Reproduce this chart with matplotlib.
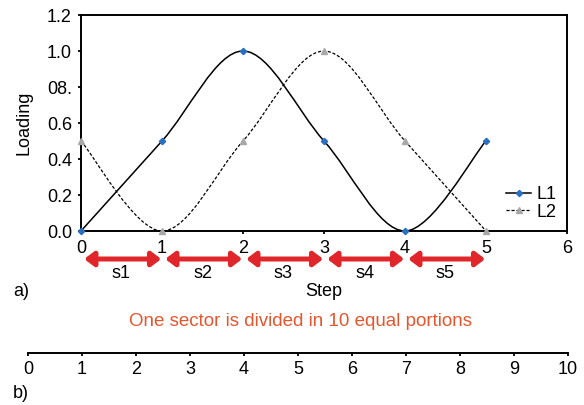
import matplotlib

matplotlib.use("Agg")
import matplotlib.pyplot as plt
from matplotlib.lines import Line2D
from matplotlib.patches import PathPatch
from matplotlib.path import Path
from matplotlib.transforms import blended_transform_factory

plt.rcParams["font.family"] = ["Liberation Sans", "DejaVu Sans"]

# data
steps = [0, 1, 2, 3, 4, 5]
l1 = [0.0, 0.5, 1.0, 0.5, 0.0, 0.5]
l2 = [0.5, 0.0, 0.5, 1.0, 0.5, 0.0]
y_ticks = [0.0, 0.2, 0.4, 0.6, 0.8, 1.0, 1.2]
y_tick_labels = ["0.0", "0.2", "0.4", "0.6", "08.", "1.0", "1.2"]
x_ticks = [0, 1, 2, 3, 4, 5, 6]
sectors = ["s1", "s2", "s3", "s4", "s5"]
portion_ticks = list(range(11))

BLUE = "#2a6fc0"
GREY = "#a8a8a8"
RED = "#e1262b"
ORANGE = "#e4572e"
FS = 13


def smooth_path(xs, ys):
    """Excel-style smoothed line: cubic Bezier segments through every point."""
    pts = list(zip(xs, ys))
    n = len(pts)
    verts = [pts[0]]
    codes = [Path.MOVETO]
    for i in range(n - 1):
        p0 = pts[max(i - 1, 0)]
        p1 = pts[i]
        p2 = pts[i + 1]
        p3 = pts[min(i + 2, n - 1)]
        c1 = (p1[0] + (p2[0] - p0[0]) / 6, p1[1] + (p2[1] - p0[1]) / 6)
        c2 = (p2[0] - (p3[0] - p1[0]) / 6, p2[1] - (p3[1] - p1[1]) / 6)
        verts += [c1, c2, p2]
        codes += [Path.CURVE4] * 3
    return Path(verts, codes)


fig = plt.figure(figsize=(5.84, 4.05), dpi=100)
ax = fig.add_axes([81 / 584, 1 - 231 / 405, 486 / 584, 216 / 405])

ax.add_patch(PathPatch(smooth_path(steps, l1), fill=False, color="black", lw=1.1, zorder=2))
ax.add_patch(PathPatch(smooth_path(steps, l2), fill=False, color="black", lw=0.9,
                       linestyle=(0, (2.5, 1.5)), zorder=2))
ax.plot(steps, l1, ls="none", marker="D", ms=3.2, color=BLUE, zorder=3, clip_on=False)
ax.plot(steps, l2, ls="none", marker="^", ms=3.8, color=GREY, zorder=3, clip_on=False)

ax.set_xlim(0, 6)
ax.set_ylim(0, 1.2)
ax.set_xticks(x_ticks)
ax.set_yticks(y_ticks)
ax.set_yticklabels(y_tick_labels)
ax.tick_params(direction="out", length=2.5, width=1.3, labelsize=FS, pad=4)
for s in ax.spines.values():
    s.set_linewidth(1.4)

ax.set_ylabel("Loading", fontsize=FS)
ax.yaxis.set_label_coords((32 - 81) / 486, 0.5)
ax.set_xlabel("Step", fontsize=FS)
ax.xaxis.set_label_coords(0.5, (231 - 292) / 216)
ax.xaxis.label.set_va("center")

handles = [
    Line2D([], [], color="black", lw=1.1, marker="D", ms=3.2, mfc=BLUE, mec=BLUE),
    Line2D([], [], color="black", lw=0.9, ls=(0, (2.5, 1.5)), marker="^", ms=3.8,
           mfc=GREY, mec=GREY),
]
ax.legend(handles, ["L1", "L2"], loc="lower right", frameon=False, fontsize=FS,
          handlelength=1.4, handletextpad=0.3, labelspacing=0.05,
          bbox_to_anchor=(1.0 - 3 / 486, 3 / 216), borderaxespad=0, borderpad=0.4)

# sector arrows below the step axis
trans = blended_transform_factory(ax.transData, ax.transAxes)
arrow_y = (231 - 259) / 216
label_y = (231 - 273) / 216
for i, name in enumerate(sectors):
    ax.annotate("", xy=(i + 0.99, arrow_y), xytext=(i + 0.04, arrow_y),
                xycoords=trans, textcoords=trans, annotation_clip=False,
                arrowprops=dict(arrowstyle="<|-|>,head_length=0.55,head_width=0.42",
                                color=RED, lw=3.6, shrinkA=0, shrinkB=0,
                                mutation_scale=10))
    ax.text(i + 0.5, label_y, name, transform=trans, ha="center", va="center",
            fontsize=FS)

fig.text(13 / 584, 1 - 292 / 405, "a)", ha="left", va="center", fontsize=FS)
fig.text(300 / 584, 1 - 322 / 405, "One sector is divided in 10 equal portions",
         ha="center", va="center", fontsize=13.5, color=ORANGE)

# b) portion scale
bx = fig.add_axes([28 / 584, 1 - 353 / 405, 540 / 584, 0.001])
bx.set_xlim(0, 10)
bx.set_yticks([])
bx.set_xticks(portion_ticks)
for side in ("top", "left", "right"):
    bx.spines[side].set_visible(False)
bx.spines["bottom"].set_linewidth(1.4)
bx.tick_params(direction="out", length=2.5, width=1.3, labelsize=FS, pad=3)
bx.patch.set_visible(False)

fig.text(13 / 584, 1 - 393 / 405, "b)", ha="left", va="center", fontsize=FS)

fig.savefig("out.png", dpi=100)
